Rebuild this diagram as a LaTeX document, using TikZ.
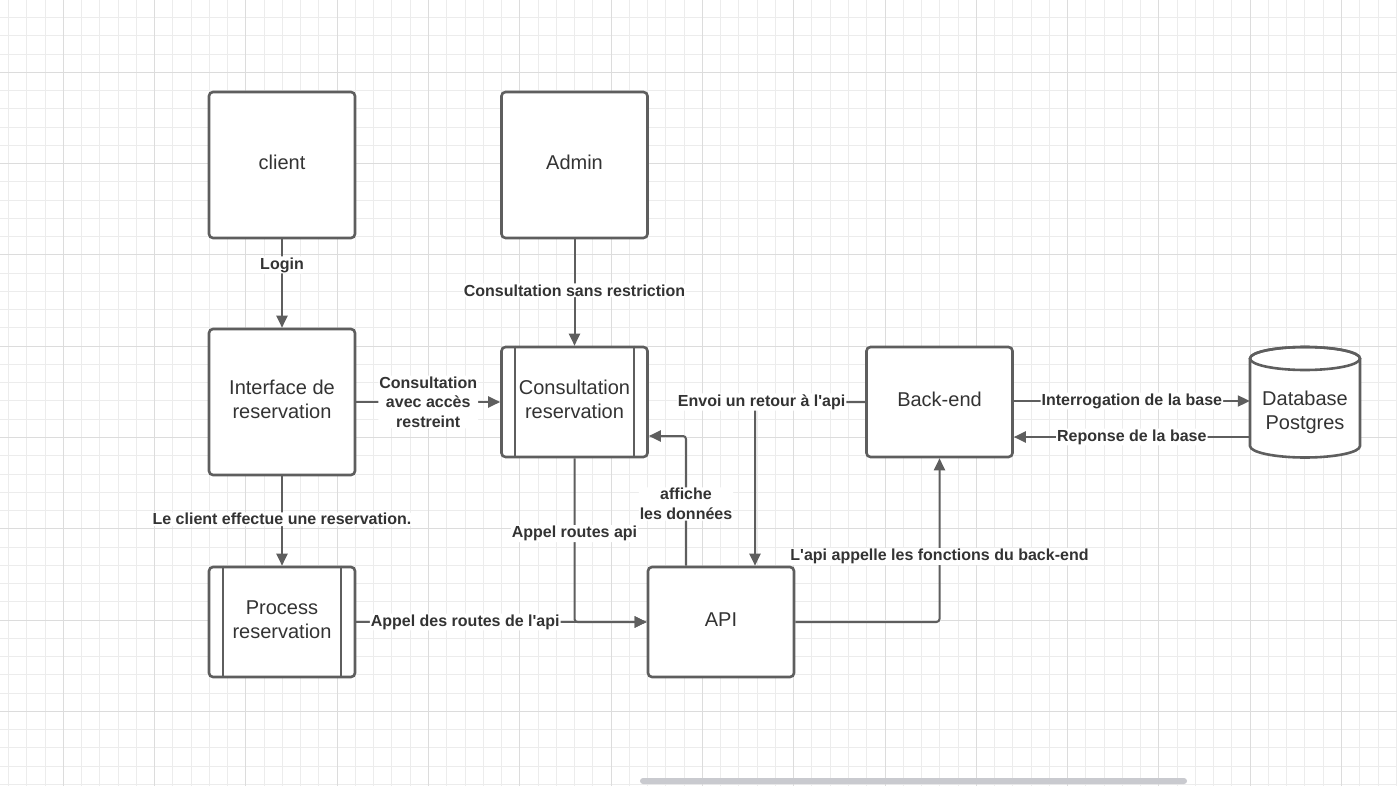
\documentclass[tikz,border=0pt]{standalone}
\usepackage{fontspec}
\setmainfont{Liberation Sans}
\usetikzlibrary{arrows.meta,calc}
\definecolor{edgec}{HTML}{5E5E5E}
\definecolor{ink}{HTML}{333333}
\definecolor{gridminor}{HTML}{ECECEC}
\definecolor{gridmajor}{HTML}{DCDCDC}
\definecolor{scrollc}{HTML}{C9CACF}
\newcommand{\apos}{\textquotesingle}
% box captions sit slightly above the geometric centre
\newcommand{\boxtxt}[2][4pt]{\raisebox{#1}{\begin{tabular}{@{}c@{}}#2\end{tabular}}}

\begin{document}
\begin{tikzpicture}[x=1pt,y=-1pt,
  box/.style={draw=edgec, line width=2.6pt, rounded corners=4pt, fill=white,
    minimum width=146pt, minimum height=146pt, text=ink,
    font=\fontsize{20}{24}\selectfont, inner sep=0pt},
  procbox/.style={box, minimum height=110pt},
  conn/.style={draw=edgec, line width=2pt, rounded corners=3pt,
    -{Triangle[length=12pt,width=11pt]}},
  lbl/.style={fill=white, text=ink, font=\fontsize{16}{19.5}\selectfont\bfseries,
    align=center, inner sep=1pt}]

% canvas
\useasboundingbox (0,0) rectangle (1397,786);
\fill[white] (0,0) rectangle (1397,786);
\foreach \i in {-3,...,73}
  \draw[gridminor, line width=1pt] ({63.3+\i*18.26},0) -- ({63.3+\i*18.26},786);
\foreach \j in {-3,...,39}
  \draw[gridminor, line width=1pt] (0,{72.3+\j*18.26}) -- (1397,{72.3+\j*18.26});
\foreach \i in {0,5,...,70}
  \draw[gridmajor, line width=1pt] ({63.3+\i*18.26},0) -- ({63.3+\i*18.26},786);
\foreach \j in {0,5,...,35}
  \draw[gridmajor, line width=1pt] (0,{72.3+\j*18.26}) -- (1397,{72.3+\j*18.26});

% actors and components
\node[box] (client) at (282,165) {\boxtxt{client}};
\node[box] (admin) at (574.5,165) {\boxtxt{Admin}};
\node[box] (iface) at (282,402) {\boxtxt{Interface de\\reservation}};
\node[procbox] (cons) at (574.5,402) {\boxtxt{Consultation\\reservation}};
\node[procbox] (proc) at (282,622) {\boxtxt{Process\\reservation}};
\node[box, minimum height=110pt] (api) at (721,622) {\boxtxt[2pt]{API}};
\node[box, minimum height=110pt] (back) at (939.5,402) {\boxtxt[1pt]{Back-end}};

% side bars of the process boxes
\foreach \n in {cons,proc}{
  \draw[edgec, line width=2pt] ([xshift=15]\n.north west) -- ([xshift=15]\n.south west);
  \draw[edgec, line width=2pt] ([xshift=-15]\n.north east) -- ([xshift=-15]\n.south east);
}

% database cylinder
\node[minimum width=110pt, minimum height=110pt, inner sep=0pt] (db) at (1305,402) {};
\filldraw[fill=white, draw=edgec, line width=2.6pt]
  (1250,358.5) -- (1250,446) arc[start angle=180, end angle=0, x radius=55, y radius=11.5]
  -- (1360,358.5) arc[start angle=0, end angle=-180, x radius=55, y radius=11.5] -- cycle;
\draw[edgec, line width=2.6pt] (1305,358.5) ellipse[x radius=55, y radius=11.5];
\node[text=ink, align=center, font=\fontsize{20}{24}\selectfont, inner sep=0pt] (dbtext) at (1305,412) {Database\\Postgres};

% flows
\draw[conn] (client) -- node[lbl, pos=0.29] {Login} (iface);
\draw[conn] (admin) -- node[lbl, pos=0.48] {Consultation sans restriction} (cons);
\draw[conn] (iface) -- node[lbl] {Consultation\\avec accès\\restreint} (cons);
\draw[conn] (iface) -- node[lbl, pos=0.48] {Le client effectue une reservation.} (proc);
\draw[conn] (proc) -- node[lbl, pos=0.375] {Appel des routes de l\apos api} (api);
\draw[conn] (cons.south) |- node[lbl, pos=0.23] {Appel routes api} (api.west);
\draw[conn] ([xshift=-35]api.north) |- node[lbl, pos=0.238] {affiche\\les données} ([yshift=-34]cons.east);
\draw[conn] (back.west) -| node[lbl, pos=0.47] {Envoi un retour à l\apos api} ([xshift=34]api.north);
\draw[conn] (api.east) -| node[lbl, pos=0.70] {L\apos api appelle les fonctions du back-end} (back.south);
\draw[conn] ([yshift=1]back.east) -- node[lbl] {Interrogation de la base} ([yshift=1]back.east -| db.west);
\draw[conn] ([yshift=-35]db.west) -- node[lbl] {Reponse de la base} ([yshift=-35]back.east);

% scroll bar
\fill[scrollc, rounded corners=3pt] (640,778) rectangle (1187,784);
\end{tikzpicture}
\end{document}
